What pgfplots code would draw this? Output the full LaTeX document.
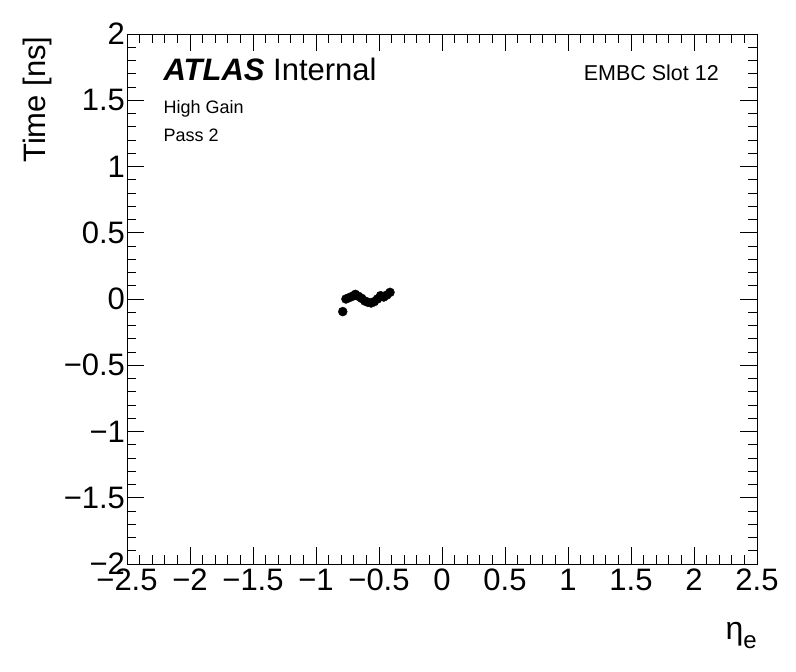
\documentclass[border=0pt]{standalone}
\usepackage{fontspec}
\setmainfont{Liberation Sans}
\usepackage{pgfplots}
\pgfplotsset{compat=1.18}
\begin{document}
\begin{tikzpicture}
\begin{axis}[name=ax, scale only axis, width=630pt, height=530pt,
  xmin=-2.5, xmax=2.5, ymin=-2, ymax=2,
  xtick={-2.5,-2,-1.5,-1,-0.5,0,0.5,1,1.5,2,2.5},
  xticklabels={−2.5,−2,−1.5,−1,−0.5,0,0.5,1,1.5,2,2.5},
  ytick={-2,-1.5,-1,-0.5,0,0.5,1,1.5,2},
  yticklabels={−2,−1.5,−1,−0.5,0,0.5,1,1.5,2},
  minor x tick num=4, minor y tick num=4,
  major tick length=17pt, minor tick length=9pt,
  tick style={black, line width=0.8pt},
  axis line style={line width=0.8pt},
  ticklabel style={font=\fontsize{31}{34}\selectfont},
  yticklabel style={xshift=1.5pt},
  xticklabel style={text height=22.3pt, text depth=0pt, yshift=-1pt},
  clip=false,
]
\addplot[only marks, mark=*, mark size=4.5pt, black] coordinates {
(-0.7875,-0.095) (-0.7625,0.000) (-0.7375,0.010) (-0.7125,0.020)
(-0.6875,0.035) (-0.6625,0.020) (-0.6375,0.005) (-0.6125,-0.015)
(-0.5875,-0.025) (-0.5625,-0.030) (-0.5375,-0.020) (-0.5125,0.000)
(-0.4875,0.025) (-0.4625,0.015) (-0.4375,0.030) (-0.4125,0.050)
};
\node[anchor=base west, font=\fontsize{31}{35}\selectfont] at (axis description cs:0.0524,0.913) {\textbf{\textit{ATLAS}} Internal};
\node[anchor=base west, font=\fontsize{18}{20}\selectfont] at (axis description cs:0.0524,0.850) {High Gain};
\node[anchor=base west, font=\fontsize{18}{20}\selectfont] at (axis description cs:0.0524,0.797) {Pass 2};
\node[anchor=base east, font=\fontsize{21.5}{24}\selectfont] at (axis description cs:0.945,0.913) {EMBC Slot 12};
\node[rotate=90, anchor=base east, font=\fontsize{31}{34}\selectfont] at (axis description cs:-0.1286,1.002) {Time [ns]};
\node[anchor=base east, font=\fontsize{32}{36}\selectfont, inner sep=0pt] at (axis description cs:1,-0.143) {η\raisebox{-9pt}{\fontsize{24}{24}\selectfont e}};
\end{axis}
\pgfresetboundingbox
\path[use as bounding box] (ax.south west) ++(-127pt,-108pt) rectangle ++(796pt,672pt);
\end{tikzpicture}
\end{document}
